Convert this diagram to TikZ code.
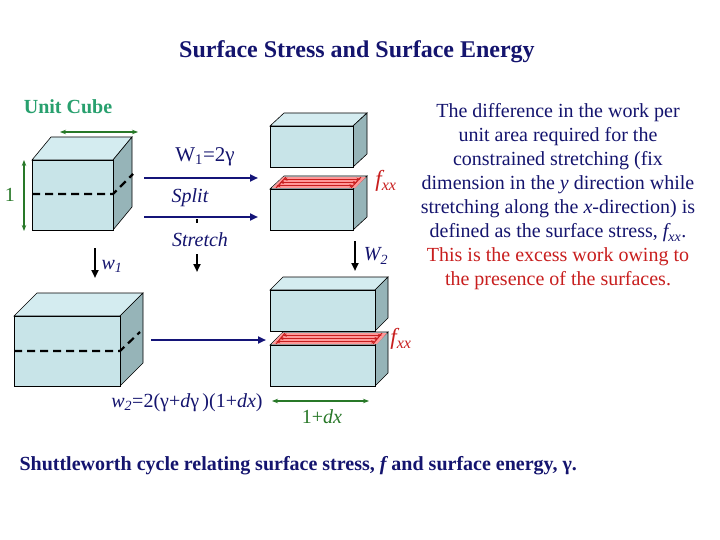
\documentclass[tikz,border=0pt]{standalone}
\usepackage{fontspec}
\setmainfont{Liberation Serif}
\usetikzlibrary{arrows.meta}
\definecolor{navy}{RGB}{20,20,110}
\definecolor{arr}{RGB}{20,20,120}
\definecolor{grn}{RGB}{40,120,40}
\definecolor{ucg}{RGB}{40,160,110}
\definecolor{fface}{RGB}{200,228,232}
\definecolor{tface}{RGB}{212,236,240}
\definecolor{rface}{RGB}{150,180,184}
\definecolor{redt}{RGB}{200,30,30}
\newcommand\myblk[6]{%
 \filldraw[fill=tface,draw=black,line width=0.6pt] (#1,#2) -- ++(#5,-#6) -- ++(#3,0) -- ++(-#5,#6) -- cycle;
 \filldraw[fill=rface,draw=black,line width=0.6pt] (#1+#3,#2) -- ++(#5,-#6) -- ++(0,#4) -- ++(-#5,#6) -- cycle;
 \filldraw[fill=fface,draw=black,line width=0.6pt] (#1,#2) rectangle ++(#3,#4);}
\newcommand\mystrips[5]{% x y w dx dy : top face of lower block
 \fill[red!40] (#1+2,#2-1) -- ++(#4-3,-#5+2) -- ++(#3,0) -- ++(-#4+3,#5-2) -- cycle;
 \foreach \t in {0.25,0.5,0.75}{
  \draw[redt,line width=1.2pt,{Stealth[length=4pt]}-{Stealth[length=4pt]}] (#1+3+\t*#4,#2-\t*#5) -- ++(#3-6,0);}
 \draw[redt,line width=1pt] (#1+6,#2-1)--++(#4-4,-#5+2);
 \draw[redt,line width=1pt] (#1+#3-2,#2-1)--++(#4-4,-#5+2);}
\tikzset{flow/.style={arr,line width=2.2pt,-{Triangle[length=8pt,width=7pt]}},
 down/.style={black,line width=2pt,-{Triangle[length=8pt,width=7pt]}},
 dim/.style={grn,line width=1.2pt,{Stealth[length=6pt]}-{Stealth[length=6pt]}},
 cut/.style={black,line width=2.2pt,dash pattern=on 8pt off 5pt},
 lab/.style={font=\fontsize{20}{24}\selectfont}}
\begin{document}
\begin{tikzpicture}[x=1pt,y=-1pt]
\fill[white] (0,0) rectangle (720,540);
\node[lab,navy,font=\fontsize{24}{28}\selectfont\bfseries] (title) at (357,52) {Surface Stress and Surface Energy};
\node[ucg,font=\fontsize{20}{24}\selectfont\bfseries] (uc) at (68,107) {Unit Cube};
% cube 1
\myblk{32}{160}{81}{70}{19}{23}
\draw[cut] (32,194) -- (113,194) -- (133,174);
\coordinate (d1a) at (60,132); \coordinate (d1b) at (138,132);
\draw[dim] (d1a) -- (d1b);
\coordinate (d2a) at (24,160); \coordinate (d2b) at (24,231);
\draw[dim] (d2a) -- (d2b);
\node[lab,grn] (one) at (10,195) {1};
% arrows
\coordinate (a1) at (144,178); \coordinate (a1e) at (258,178);
\draw[flow] (a1) -- (a1e);
\coordinate (a2) at (144,217); \coordinate (a2e) at (258,217);
\draw[flow] (a2) -- (a2e);
\draw[black,line width=1.5pt] (197,219) -- (197,223);
\node[lab,navy,font=\fontsize{21}{24}\selectfont] (w1t) at (205,157) {W\textsubscript{1}=2γ};
\node[lab,navy] (split) at (190,198) {\itshape Split};
\node[lab,navy] (stretch) at (200,240) {\itshape Stretch};
\coordinate (s1) at (197,254); \coordinate (s2) at (197,272);
\draw[down] (s1) -- (s2);
\coordinate (w1a) at (95,248); \coordinate (w1b) at (95,278);
\draw[down] (w1a) -- (w1b);
\node[lab,navy] (w1l) at (112,266) {\itshape w\textsubscript{1}};
% top right blocks
\myblk{270}{126}{83}{41}{14}{13}
\myblk{270}{189}{83}{41}{14}{13}
\mystrips{270}{189}{83}{14}{13}
\node[lab,redt,font=\fontsize{23}{26}\selectfont] (f1) at (386,181) {\itshape f\textsubscript{xx}};
\coordinate (W2a) at (355,241); \coordinate (W2b) at (355,271);
\draw[down] (W2a) -- (W2b);
\node[lab,navy] (W2) at (376,256) {\itshape W\textsubscript{2}};
% bottom left
\myblk{14}{316}{106}{70}{23}{23}
\draw[cut] (14,351) -- (120,351) -- (140,332);
\coordinate (a3) at (151,340); \coordinate (a3e) at (266,340);
\draw[flow] (a3) -- (a3e);
% bottom right
\myblk{270}{290}{105}{41}{13}{13}
\myblk{270}{345}{105}{41}{13}{13}
\mystrips{270}{345}{105}{13}{13}
\node[lab,redt,font=\fontsize{23}{26}\selectfont] (f2) at (401,339) {\itshape f\textsubscript{xx}};
\node[lab,navy] (w2) at (187,403) {\itshape w\textsubscript{2}\upshape=2(γ+\itshape d\upshape γ\,)(1+\itshape dx\upshape)};
\coordinate (g1) at (272,401); \coordinate (g2) at (369,401);
\draw[dim] (g1) -- (g2);
\node[lab,grn] (dx) at (322,417) {1+\itshape dx};
% right text
\node[lab,navy,align=center] (desc) at (558,197) {The difference in the work per\\unit area required for the\\constrained stretching (fix\\dimension in the \itshape y\upshape{} direction while\\stretching along the \itshape x\upshape-direction) is\\defined as the surface stress, \itshape f\textsubscript{xx}\upshape.\\\textcolor{redt}{This is the excess work owing to}\\\textcolor{redt}{the presence of the surfaces.}};
\node[navy,anchor=west,font=\fontsize{20}{24}\selectfont\bfseries] (bot) at (16,466) {Shuttleworth cycle relating surface stress, \itshape f\upshape{} and surface energy, γ.};
\end{tikzpicture}
\end{document}
